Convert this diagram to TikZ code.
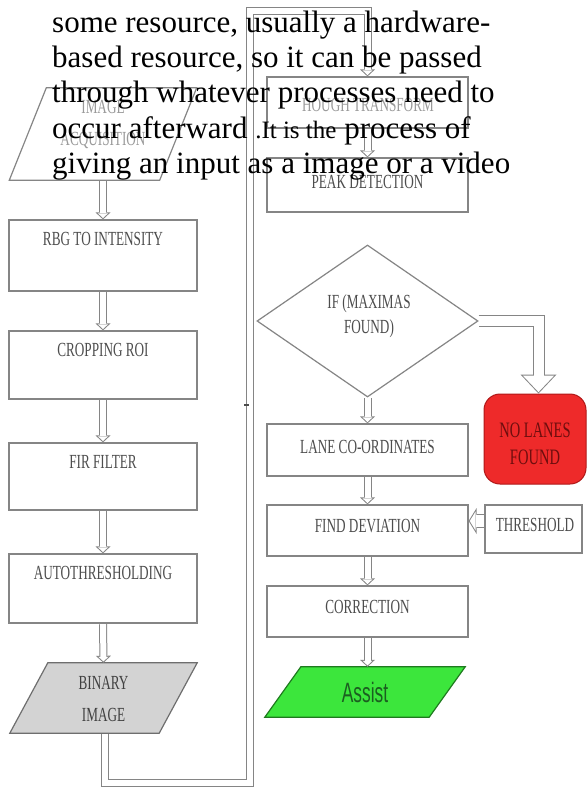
\documentclass[tikz,border=0pt]{standalone}
\usepackage{fontspec}
\setmainfont{Liberation Serif}
\newfontfamily\boxfont[FakeStretch=0.66]{Liberation Serif}
\newfontfamily\assistfont[FakeStretch=0.62]{Liberation Sans}
\usetikzlibrary{arrows.meta,shapes.geometric,backgrounds}
\definecolor{lg}{HTML}{858585}
\definecolor{tg}{HTML}{4D4D4D}
\definecolor{tlg}{HTML}{9A9A9A}
\definecolor{binfill}{HTML}{D3D3D3}
\definecolor{bindraw}{HTML}{6E6E6E}
\definecolor{asfill}{HTML}{3CE63C}
\definecolor{asdraw}{HTML}{1E7A1E}
\definecolor{astext}{HTML}{1B5E20}
\definecolor{nlfill}{HTML}{EE2A2A}
\definecolor{nldraw}{HTML}{B01818}
\definecolor{nltext}{HTML}{6E0E0E}
\begin{document}
\begin{tikzpicture}[x=1pt,y=-1pt,line join=miter,
  lbox/.style={draw=lg, line width=1.2pt, minimum width=188pt, inner sep=0pt},
  rbox/.style={draw=lg, line width=1.2pt, minimum width=201pt, inner sep=0pt},
  lbl/.style={font=\boxfont\fontsize{20}{22}\selectfont, text=tg, inner sep=0pt, align=center},
  pg/.style={draw=lg, line width=1.2pt},
  para/.style={anchor=base west, inner sep=0pt, font=\fontsize{31}{35}\selectfont, text=black},
  harrow/.style={draw=lg, line width=8pt, shorten <=0.6pt,
    -{Triangle[length=7pt,width=15pt,line width=0pt]},
    postaction={draw=white, line width=6pt,
      -{Triangle[length=4.6pt,width=9.9pt,line width=0pt]}, shorten >=1.4pt}},
  bigarrow/.style={draw=lg, line width=12pt,
    -{Triangle[length=19pt,width=36pt,line width=0pt]},
    postaction={draw=white, line width=10pt,
      -{Triangle[length=16.5pt,width=31.3pt,line width=0pt]}, shorten >=1.45pt}},
  smarrow/.style={draw=lg, line width=14pt, shorten <=0.6pt,
    -{Triangle[length=8pt,width=26pt,line width=0pt]},
    postaction={draw=white, line width=12pt,
      -{Triangle[length=5.8pt,width=19pt,line width=0pt]}, shorten >=1.2pt}}
]
\useasboundingbox (0,0) rectangle (587,788);
\begin{scope}[on background layer]
\fill[white] (0,0) rectangle (587,788);
\end{scope}

% ---------- left column ----------
\node[inner sep=0pt, minimum width=187pt, minimum height=92pt] (ia) at (103,134) {};
\node[lbl, text=tlg, font=\boxfont\fontsize{20}{32}\selectfont] (ia-t) at (103,124) {IMAGE\\ACQUISITION};

\node[lbox, minimum height=71pt] (rbg) at (103,255.5) {};
\node[lbl] (rbg-t) at ([yshift=-20pt]rbg.north) {RBG TO INTENSITY};

\node[lbox, minimum height=68pt] (crop) at (103,365) {};
\node[lbl] (crop-t) at ([yshift=-20pt]crop.north) {CROPPING ROI};

\node[lbox, minimum height=67pt] (fir) at (103,476.5) {};
\node[lbl] (fir-t) at ([yshift=-20pt]fir.north) {FIR FILTER};

\node[lbox, minimum height=69pt] (auto) at (103,588.5) {};
\node[lbl] (auto-t) at ([yshift=-20pt]auto.north) {AUTOTHRESHOLDING};

\node[inner sep=0pt, minimum width=187pt, minimum height=70pt] (bin) at (103.5,698) {};
\node[lbl, text=black!75, font=\boxfont\fontsize{20}{32}\selectfont] (bin-t) at (103.5,699) {BINARY\\IMAGE};

% ---------- right column ----------
\node[rbox, minimum height=51pt] (hough) at (367.5,102.5) {};
\node[lbl, text=tlg] (hough-t) at (368,105) {HOUGH TRANSFORM};

\node[rbox, minimum height=54pt] (peak) at (367.5,185) {};
\node[lbl] (peak-t) at (367.5,182) {PEAK DETECTION};

\node[diamond, draw=lg, line width=1.2pt, minimum width=221pt, minimum height=152pt, inner sep=0pt] (dia) at (367.5,321) {};
\node[lbl, font=\boxfont\fontsize{20}{25}\selectfont] (dia-t) at (369,316) {IF (MAXIMAS\\FOUND)};

\node[draw=nldraw, line width=1pt, fill=nlfill, rounded corners=16pt, minimum width=102pt, minimum height=90pt, inner sep=0pt] (nl) at (535,439) {};
\node[lbl, text=nltext, font=\boxfont\fontsize{22}{27}\selectfont] (nl-t) at (535,443.5) {NO LANES\\FOUND};

\node[rbox, minimum height=52pt] (lane) at (367.5,450) {};
\node[lbl] (lane-t) at (367.5,447) {LANE CO-ORDINATES};

\node[rbox, minimum height=51pt] (find) at (367.5,530.5) {};
\node[lbl] (find-t) at (367.5,526) {FIND DEVIATION};

\node[draw=lg, line width=1.2pt, minimum width=97pt, minimum height=48pt, inner sep=0pt] (thr) at (533.5,529) {};
\node[lbl] (thr-t) at (535,525) {THRESHOLD};

\node[rbox, minimum height=51pt] (corr) at (367.5,611.5) {};
\node[lbl] (corr-t) at (367.5,607) {CORRECTION};

\node[inner sep=0pt, minimum width=200pt, minimum height=50pt] (as) at (365,692) {};
\node[inner sep=0pt, text=astext, font=\assistfont\fontsize{28}{30}\selectfont] (as-t) at (365,692) {Assist};

% ---------- parallelograms ----------
\begin{scope}[on background layer]
\draw[pg] ([xshift=37pt]ia.north west) -- (ia.north east) -- ([xshift=-37pt]ia.south east) -- (ia.south west) -- cycle;
\draw[pg, draw=bindraw, fill=binfill] ([xshift=38pt]bin.north west) -- (bin.north east) -- ([xshift=-38pt]bin.south east) -- (bin.south west) -- cycle;
\draw[pg, draw=asdraw, fill=asfill] ([xshift=36pt]as.north west) -- (as.north east) -- ([xshift=-36pt]as.south east) -- (as.south west) -- cycle;
\end{scope}

% ---------- connectors ----------
\draw[harrow] (ia.south) -- (rbg.north);
\draw[harrow] (rbg.south) -- (crop.north);
\draw[harrow] (crop.south) -- (fir.north);
\draw[harrow] (fir.south) -- (auto.north);
\draw[harrow] (auto.south) -- (bin.north);
\draw[harrow] ([xshift=1.5pt]bin.south) -- ++(0,50) -| (249.5,11) -| (hough.north);
\draw[harrow] (hough.south) -- (peak.north);
\draw[harrow] (dia.south) -- (lane.north);
\draw[harrow] (lane.south) -- (find.north);
\draw[harrow] (find.south) -- (corr.north);
\draw[harrow] (corr.south) -- (corr.south |- as.north);
\draw[bigarrow] (dia.east) -| ([xshift=3.5pt]nl.north);
\draw[smarrow] ([yshift=8pt]thr.west) -- ([yshift=8pt]thr.west -| find.east);
\draw[line width=1.2pt, black!70] (244,405) -- (249,405);

% ---------- overlaid paragraph ----------
\node[para] (p1) at (52,32) {some resource, usually a hardware-};
\node[para] (p2) at (52,67) {based resource, so it can be passed};
\node[para] (p3) at (52,102) {through whatever processes need to};
\node[para] (p4) at (52,138) {occur afterward {\fontsize{25}{30}\selectfont .It is the} process of};
\node[para] (p5) at (52,173) {giving an input as a image or a video};
\end{tikzpicture}
\end{document}
